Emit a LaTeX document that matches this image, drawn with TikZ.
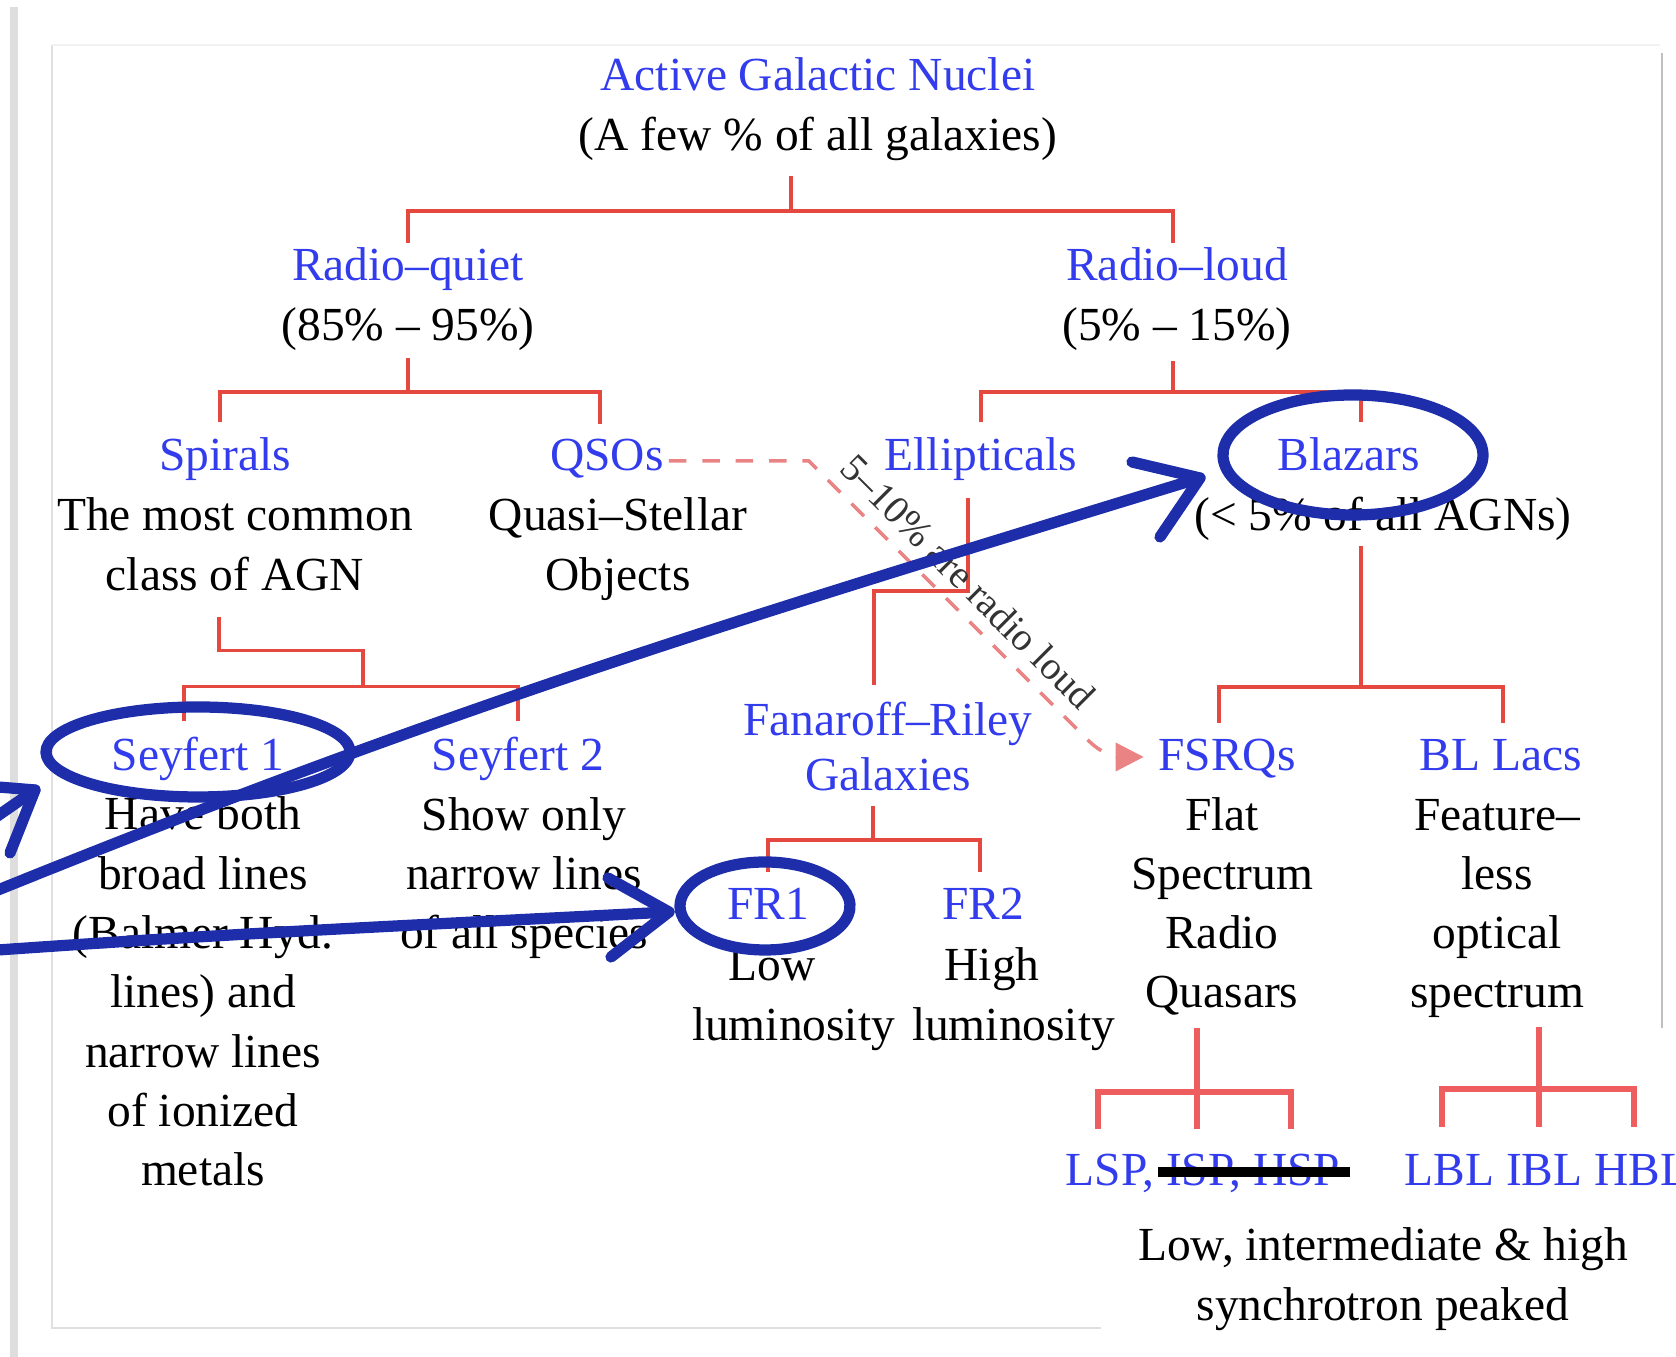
\documentclass[tikz,border=0pt]{standalone}
\usepackage{fontspec}
\setmainfont{Liberation Serif}
\usepackage{tikz}
\usetikzlibrary{arrows.meta, positioning}
\usepackage{xcolor}

\definecolor{agnblue}{RGB}{50,60,236}
\definecolor{agnred}{RGB}{228,72,62}
\definecolor{legred}{RGB}{238,94,94}
\definecolor{dashred}{RGB}{234,132,132}
\definecolor{penblue}{RGB}{30,46,170}
\newcommand{\agnsize}{\fontsize{13.5}{16.87}\selectfont}
\newcommand{\notesize}{\fontsize{11.2}{13.4}\selectfont}

\begin{document}
\begin{tikzpicture}[
    txt/.style={font=\agnsize, align=center, inner sep=0pt, anchor=base},
    cls/.style={txt, text=agnblue},
    branch/.style={agnred, line width=1.1pt},
    subbranch/.style={legred, line width=1.7pt},
    pen/.style={penblue, line width=3.2pt, line cap=round, line join=round},
    rqarrow/.style={dashred, line width=1pt, dash pattern=on 5pt off 4.5pt, -{Triangle[length=8pt,width=8pt]}}
  ]
  \useasboundingbox (0,0) rectangle (16.76,13.57);

  % screenshot frame
  \draw[black!13, line width=2.4pt] (0.14,13.50) -- (0.14,-0.1);
  \draw[black!12, line width=0.5pt] (0.52,13.12) -- (0.52,0.29) -- (11.01,0.29);
  \draw[black!5, line width=0.5pt] (0.52,13.12) -- (16.60,13.12);
  \draw[black!25, line width=0.6pt] (16.62,13.04) -- (16.62,3.29);

  % top of the tree (multi-line nodes sit on their last baseline)
  \node[txt] (agn) at (8.18,12.067) {\textcolor{agnblue}{Active Galactic Nuclei}\\(A few \% of all galaxies)};
  \node[txt] (rq) at (4.08,10.167) {\textcolor{agnblue}{Radio--quiet}\\(85\% -- 95\%)};
  \node[txt] (rl) at (11.77,10.167) {\textcolor{agnblue}{Radio--loud}\\(5\% -- 15\%)};

  % host galaxies
  \node[cls] (spirals) at (2.25,8.86) {Spirals};
  \node[txt] (spiralsdesc) at (2.35,7.667) {The most common\\class of AGN};
  \node[cls] (qsos) at (6.07,8.86) {QSOs};
  \node[txt] (qsosdesc) at (6.18,7.667) {Quasi--Stellar\\Objects};
  \node[cls] (ellipticals) at (9.81,8.86) {Ellipticals};
  \node[cls] (blazars) at (13.49,8.86) {Blazars};
  \node[txt] (blazdesc) at (13.83,8.26) {(< 5\% of all AGNs)};

  % sub classes
  \node[cls] (sey1) at (1.98,5.86) {Seyfert 1};
  \node[txt] (sey1desc) at (2.03,1.713) {Have both\\broad lines\\(Balmer Hyd.\\lines) and\\narrow lines\\of ionized\\metals};
  \node[cls] (sey2) at (5.18,5.86) {Seyfert 2};
  \node[txt] (sey2desc) at (5.24,4.084) {Show only\\narrow lines\\of all species};
  \node[cls] (fr) at (8.88,5.66) {Fanaroff--Riley\\[-1pt]Galaxies};
  \node[cls] (fsrq) at (12.27,5.86) {FSRQs};
  \node[txt] (fsrqdesc) at (12.22,3.491) {Flat\\Spectrum\\Radio\\Quasars};
  \node[cls] (bllac) at (15.01,5.86) {BL Lacs};
  \node[txt] (bldesc) at (14.97,3.491) {Feature--\\less\\optical\\spectrum};

  \node[cls] (fr1) at (7.68,4.37) {FR1};
  \node[txt, text width=1.6cm] (fr1desc) at (7.72,3.76) {Low\\\mbox{luminosity}};
  \node[cls] (fr2) at (9.83,4.37) {FR2};
  \node[txt, text width=1.6cm] (fr2desc) at (9.92,3.76) {High\\\mbox{luminosity}};

  % synchrotron peak
  \node[cls] (lsp) at (12.03,1.71) {LSP, ISP, HSP};
  \node[cls, anchor=base west] (lbl) at (14.04,1.71) {LBL IBL HBL};
  \node[txt] (synch) at (13.83,0.367) {Low, intermediate \& high\\synchrotron peaked};
  \draw[line width=2.6pt] ([xshift=-4.5mm,yshift=1.4mm]lsp.base) -- ++(1.92,0);

  % branches
  \draw[branch] ([xshift=-2.7mm,yshift=-1.5mm]agn.south) -- ++(0,-0.35) coordinate (j0);
  \draw[branch] ([yshift=0.45mm]rq.north) |- (j0) -| ([xshift=-0.4mm,yshift=0.45mm]rl.north);

  \draw[branch] ([yshift=-0.7mm]rq.south) -- ++(0,-0.34) coordinate (j1);
  \draw[branch] ([xshift=-0.5mm,yshift=1.5mm]spirals.north) |- (j1) -| ([xshift=-0.7mm,yshift=1.5mm]qsos.north);

  \draw[branch] ([xshift=-0.4mm,yshift=-1mm]rl.south) -- ++(0,-0.31) coordinate (j2);
  \draw[branch] ([yshift=1.5mm]ellipticals.north) |- (j2) -| ([xshift=1.2mm,yshift=1.5mm]blazars.north);

  \draw[branch] ([xshift=-1.6mm,yshift=-2.6mm]spiralsdesc.south) -- ++(0,-0.33) -| ++(1.44,-0.36) coordinate (j3);
  \draw[branch] ([xshift=-1.4mm,yshift=1.6mm]sey1.north) |- (j3) -| ([yshift=1.6mm]sey2.north);

  \draw[branch] ([xshift=-1.3mm,yshift=-1.6mm]ellipticals.south) -- ++(0,-0.93) -| ([xshift=-1.4mm,yshift=1.6mm]fr.north);

  \draw[branch] ([xshift=-2.2mm,yshift=-0.4mm]blazdesc.south) -- ++(0,-1.41) coordinate (j4);
  \draw[branch] ([xshift=-0.8mm,yshift=1.6mm]fsrq.north) |- (j4) -| ([xshift=0.2mm,yshift=1.6mm]bllac.north);

  \draw[branch] ([xshift=-1.5mm,yshift=-1.4mm]fr.south) -- ++(0,-0.34) coordinate (j5);
  \draw[branch] ([yshift=1.6mm]fr1.north) |- (j5) -| ([xshift=-0.3mm,yshift=1.6mm]fr2.north);

  \draw[subbranch] ([xshift=-2.5mm,yshift=-1.2mm]fsrqdesc.south) -- ++(0,-1.01) coordinate[pos=0.63] (j6);
  \draw[subbranch] ([xshift=-9.9mm,yshift=-3.7mm]j6) -- ++(0,0.37) -- ++(1.93,0) -- ++(0,-0.37);

  \draw[subbranch] ([xshift=4.2mm,yshift=-0.8mm]bldesc.south) -- ++(0,-1.0) coordinate[pos=0.62] (j7);
  \draw[subbranch] ([xshift=-9.7mm,yshift=-3.8mm]j7) -- ++(0,0.38) -- ++(1.92,0) -- ++(0,-0.38);

  % QSOs that are radio loud
  \draw[rqarrow] ([xshift=0.45mm,yshift=1mm]qsos.base east) -- ++(1.40,0)
      -- node[sloped, above, pos=0.5, font=\notesize, text=black!80] {5--10\% are radio loud} ++(2.80,-2.80)
      to[out=-45,in=180] ([xshift=-1.4mm,yshift=1.4mm]fsrq.base west);

  % hand-drawn marks
  \draw[pen] (13.53,9.02) ++(35:1.30 and 0.60) arc[start angle=35, end angle=418, x radius=1.30, y radius=0.60];
  \draw[pen] (1.98,6.05) ++(40:1.52 and 0.45) arc[start angle=40, end angle=420, x radius=1.52, y radius=0.45];
  \draw[pen] (7.65,4.51) ++(40:0.85 and 0.44) arc[start angle=40, end angle=420, x radius=0.85, y radius=0.44];

  \coordinate (startA) at (-0.02,4.67);
  \coordinate (tipA) at (12.00,8.79);
  \draw[pen] (startA) to[out=22,in=197] (tipA);
  \draw[pen] (11.32,8.95) -- (tipA) -- (11.60,8.20);

  \coordinate (startB) at (-0.02,4.07);
  \coordinate (tipB) at (6.69,4.45);
  \draw[pen] (startB) to[out=4,in=183] (tipB);
  \draw[pen] (6.08,4.79) -- (tipB) -- (6.11,4.00);

  \coordinate (tipC) at (0.35,5.67);
  \draw[pen] (-0.30,5.22) -- (tipC);
  \draw[pen] (-0.02,5.70) -- (tipC) -- (0.10,5.04);
\end{tikzpicture}
\end{document}
